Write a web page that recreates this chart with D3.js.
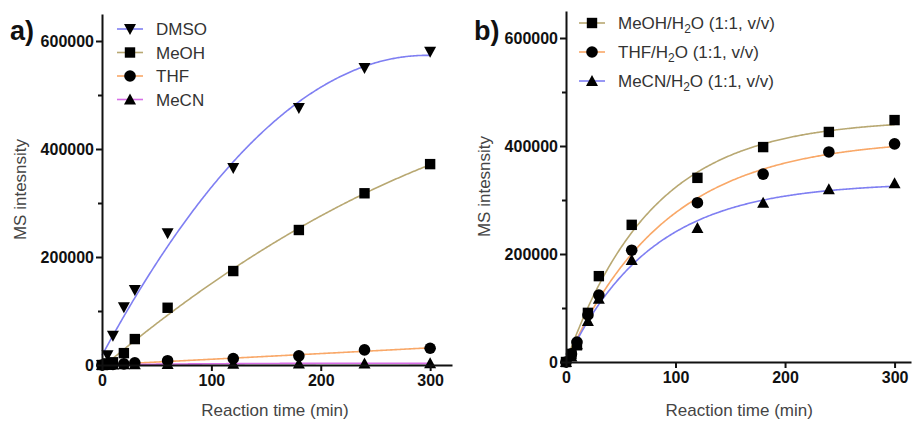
<!DOCTYPE html>
<html>
<head>
<script src="https://d3js.org/d3.v7.min.js"></script>
<style>
  body { margin: 0; background: #fff; }
  svg { font-family: "Liberation Sans", Arial, sans-serif; }
  .tick text { font-weight: bold; font-size: 16px; fill: #111; }
  .axis path, .axis line { stroke: #111; stroke-width: 2; }
  .title { font-size: 17px; fill: #444; }
  .legend text { font-size: 17px; fill: #333; }
</style>
</head>
<body>
<div id="chart"></div>
<script>
// time points (min)
const times = [0, 5, 10, 20, 30, 60, 120, 180, 240, 300];

// panel a: pure solvents
const dmso = [0, 18000, 54000, 107000, 139000, 244000, 365000, 476000, 550000, 580000];
const meoh = [0, 3000, 5000, 22000, 48000, 106000, 174000, 250000, 318000, 372000];
const thf  = [0, 1000, 1000, 2000, 4000, 8000, 12000, 17000, 28000, 31000];
const mecn = [0, 500, 800, 1200, 1500, 2000, 2500, 2800, 3000, 3200];

// panel b: 1:1 mixtures with water
const meohW = [0, 15000, 31000, 91000, 159000, 254000, 341000, 398000, 426000, 448000];
const thfW  = [0, 15000, 37000, 87000, 124000, 207000, 295000, 348000, 389000, 404000];
const mecnW = [0, 10000, 33000, 76000, 117000, 189000, 248000, 295000, 320000, 331000];

const xTicks = [0, 100, 200, 300];
const yTicks = [0, 200000, 400000, 600000];
const yMinor = [100000, 300000, 500000];

const blue = "#7f7ff2", khaki = "#b8a872", orange = "#f9a868", magenta = "#d76ee6";

const seriesA = [
  {name: "DMSO", values: dmso, shape: "tridown", color: blue},
  {name: "MeOH", values: meoh, shape: "square", color: khaki},
  {name: "THF",  values: thf,  shape: "circle", color: orange},
  {name: "MeCN", values: mecn, shape: "triup",  color: magenta}
];
const seriesB = [
  {name: "MeOH/H", values: meohW, shape: "square", color: khaki},
  {name: "THF/H",  values: thfW,  shape: "circle", color: orange},
  {name: "MeCN/H", values: mecnW, shape: "triup",  color: blue}
];

// least squares quadratic y = a + b t + c t^2
function quadFit(ts, ys) {
  let S = [[0,0,0],[0,0,0],[0,0,0]], B = [0,0,0];
  ts.forEach((t, i) => {
    const p = [1, t, t*t];
    for (let r = 0; r < 3; r++) {
      B[r] += p[r] * ys[i];
      for (let c = 0; c < 3; c++) S[r][c] += p[r] * p[c];
    }
  });
  // gaussian elimination
  for (let i = 0; i < 3; i++) {
    for (let j = i + 1; j < 3; j++) {
      const f = S[j][i] / S[i][i];
      for (let k = i; k < 3; k++) S[j][k] -= f * S[i][k];
      B[j] -= f * B[i];
    }
  }
  const x = [0,0,0];
  for (let i = 2; i >= 0; i--) {
    let s = B[i];
    for (let k = i + 1; k < 3; k++) s -= S[i][k] * x[k];
    x[i] = s / S[i][i];
  }
  return t => x[0] + x[1]*t + x[2]*t*t;
}

// one phase association y = Ymax (1 - exp(-k t))
function expFit(ts, ys) {
  let best = null;
  for (let k = 0.001; k < 0.2; k += 0.0001) {
    const f = ts.map(t => 1 - Math.exp(-k * t));
    const ymax = d3.sum(f, (v, i) => v * ys[i]) / d3.sum(f, v => v * v);
    const sse = d3.sum(f, (v, i) => (ymax * v - ys[i]) ** 2);
    if (!best || sse < best.sse) best = {k, ymax, sse};
  }
  return t => best.ymax * (1 - Math.exp(-best.k * t));
}

const svg = d3.select("#chart").append("svg")
  .attr("width", 913).attr("height", 421);

function marker(g, shape, x, y) {
  const s = 5.2;
  if (shape === "square") {
    g.append("rect").attr("x", x - s).attr("y", y - s).attr("width", 2*s).attr("height", 2*s).attr("fill", "#000");
  } else if (shape === "circle") {
    g.append("circle").attr("cx", x).attr("cy", y).attr("r", s + 0.6).attr("fill", "#000");
  } else if (shape === "tridown") {
    g.append("path").attr("d", `M${x-6},${y-5}L${x+6},${y-5}L${x},${y+6}Z`).attr("fill", "#000");
  } else {
    g.append("path").attr("d", `M${x-6},${y+5}L${x+6},${y+5}L${x},${y-6}Z`).attr("fill", "#000");
  }
}

function panel(opt) {
  const x = d3.scaleLinear().domain([0, opt.xMax]).range([opt.x0, opt.x1]);
  const y = d3.scaleLinear().domain([0, 650000]).range([opt.y0, opt.y1]);
  const g = svg.append("g");

  // fitted curves
  const line = d3.line().x(d => x(d[0])).y(d => y(d[1]));
  opt.series.forEach(s => {
    const fn = opt.fit(times, s.values);
    const pts = d3.range(0, 300.5, 1).map(t => [t, Math.max(0, fn(t))]);
    g.append("path").datum(pts).attr("d", line)
      .attr("fill", "none").attr("stroke", s.color).attr("stroke-width", 1.6);
  });

  // points
  opt.series.slice().reverse().forEach(s => {
    times.forEach((t, i) => marker(g, s.shape, x(t), y(s.values[i])));
  });

  // axes
  g.append("g").attr("class", "axis")
    .attr("transform", `translate(0,${opt.y0})`)
    .call(d3.axisBottom(x).tickValues(xTicks).tickSize(6).tickSizeOuter(0).tickPadding(4).tickFormat(d3.format("d")));
  g.append("g").attr("class", "axis")
    .attr("transform", `translate(${opt.x0},0)`)
    .call(d3.axisLeft(y).tickValues(yTicks).tickSize(6).tickSizeOuter(0).tickPadding(2).tickFormat(d3.format("d")));
  g.append("g").attr("class", "axis")
    .attr("transform", `translate(${opt.x0},0)`)
    .call(d3.axisLeft(y).tickValues(yMinor).tickSize(4).tickSizeOuter(0).tickFormat(""))
    .select(".domain").remove();

  // titles
  g.append("text").attr("class", "title")
    .attr("x", (opt.x0 + x(320)) / 2 - 2).attr("y", 416)
    .attr("text-anchor", "middle").text("Reaction time (min)");
  g.append("text").attr("class", "title")
    .attr("transform", `translate(${opt.x0 - 76},${(opt.y0 + opt.y1) / 2}) rotate(-90)`)
    .attr("text-anchor", "middle").text("MS intesnsity");
  g.append("text").attr("x", opt.x0 - 92).attr("y", 40)
    .attr("font-size", 27).attr("font-weight", "bold").attr("fill", "#111")
    .text(opt.label);

  // legend
  const lg = g.append("g").attr("class", "legend");
  opt.series.forEach((s, i) => {
    const ly = opt.legY + i * opt.legStep;
    lg.append("line").attr("x1", opt.legX - 13).attr("x2", opt.legX + 13)
      .attr("y1", ly).attr("y2", ly).attr("stroke", s.color).attr("stroke-width", 1.6);
    marker(lg, s.shape, opt.legX, ly);
    const tx = lg.append("text").attr("x", opt.legX + opt.textGap).attr("y", ly + 6);
    if (opt.sub) {
      tx.append("tspan").text(s.name);
      tx.append("tspan").attr("font-size", 12).attr("dy", 4).text("2");
      tx.append("tspan").attr("dy", -4).text("O (1:1, v/v)");
    } else {
      tx.text(s.name);
    }
  });
}

panel({series: seriesA, fit: quadFit, xMax: 320, x0: 102, x1: 452, y0: 365, y1: 14,
       label: "a)", legX: 130, legY: 29, legStep: 23.5, textGap: 26, sub: false});
panel({series: seriesB, fit: expFit, xMax: 315, x0: 566, x1: 911, y0: 362, y1: 11,
       label: "b)", legX: 592, legY: 23, legStep: 29, textGap: 26, sub: true});
</script>
</body>
</html>
